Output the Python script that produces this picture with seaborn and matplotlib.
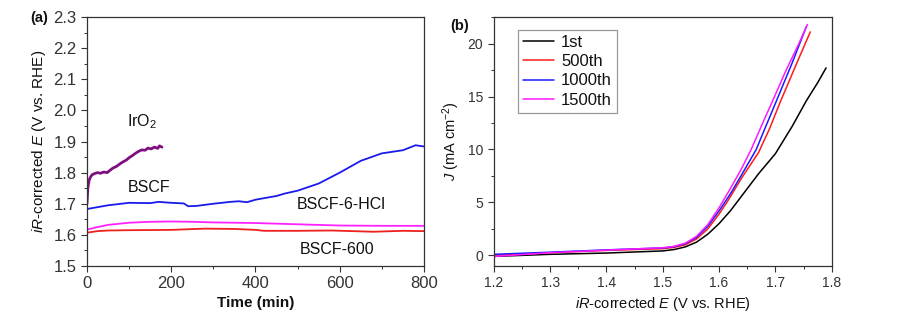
import numpy as np
import pandas as pd
import matplotlib
matplotlib.use("Agg")
import matplotlib.pyplot as plt
import seaborn as sns
from matplotlib.ticker import MultipleLocator, FormatStrFormatter

# ---- Panel (a) data: chronopotentiometry ----
iro2_t = [0, 2, 5, 8, 12, 18, 25, 32, 40, 48, 55, 62, 70, 78, 86, 93, 100, 108, 115, 122, 130, 138, 145, 152, 160, 168, 172, 178]
iro2_e = [1.70, 1.75, 1.775, 1.785, 1.793, 1.797, 1.80, 1.798, 1.802, 1.80, 1.808, 1.815, 1.82, 1.828, 1.835, 1.84, 1.848, 1.855, 1.862, 1.868, 1.873, 1.872, 1.879, 1.876, 1.882, 1.878, 1.886, 1.882]

hcl_t = [0, 50, 100, 150, 170, 200, 230, 240, 260, 300, 340, 360, 380, 400, 450, 470, 500, 550, 600, 650, 700, 750, 780, 800]
hcl_e = [1.683, 1.695, 1.703, 1.702, 1.706, 1.703, 1.701, 1.692, 1.693, 1.700, 1.706, 1.708, 1.705, 1.713, 1.725, 1.733, 1.742, 1.765, 1.800, 1.838, 1.862, 1.872, 1.888, 1.884]

bscf_t = [0, 25, 50, 100, 150, 200, 250, 300, 400, 500, 600, 700, 800]
bscf_e = [1.617, 1.625, 1.632, 1.639, 1.642, 1.643, 1.642, 1.640, 1.638, 1.634, 1.630, 1.629, 1.629]

b600_t = [0, 25, 50, 100, 200, 280, 350, 400, 420, 500, 580, 630, 680, 750, 800]
b600_e = [1.607, 1.612, 1.614, 1.615, 1.616, 1.620, 1.619, 1.616, 1.613, 1.613, 1.614, 1.612, 1.610, 1.613, 1.612]

# ---- Panel (b) data: polarization curves ----
pot_1st = [1.20, 1.30, 1.40, 1.50, 1.52, 1.54, 1.56, 1.58, 1.60, 1.62, 1.64, 1.67, 1.70, 1.73, 1.755, 1.775, 1.79]
j_1st = [-0.1, 0.1, 0.22, 0.42, 0.55, 0.8, 1.25, 2.0, 3.0, 4.2, 5.6, 7.7, 9.6, 12.2, 14.6, 16.3, 17.7]

pot_500 = [1.20, 1.30, 1.40, 1.50, 1.52, 1.54, 1.56, 1.58, 1.60, 1.615, 1.64, 1.67, 1.69, 1.708, 1.74, 1.762]
j_500 = [0.0, 0.25, 0.47, 0.63, 0.75, 1.0, 1.55, 2.5, 3.9, 5.1, 7.3, 9.7, 12.0, 14.4, 18.4, 21.1]

pot_1000 = [1.20, 1.30, 1.40, 1.50, 1.52, 1.54, 1.56, 1.58, 1.60, 1.62, 1.64, 1.666, 1.68, 1.702, 1.73, 1.755]
j_1000 = [0.1, 0.3, 0.52, 0.7, 0.82, 1.1, 1.7, 2.75, 4.2, 5.8, 7.6, 10.0, 11.8, 14.6, 18.2, 21.6]

pot_1500 = [1.20, 1.30, 1.40, 1.50, 1.52, 1.54, 1.56, 1.58, 1.60, 1.62, 1.64, 1.657, 1.68, 1.696, 1.72, 1.74, 1.757]
j_1500 = [-0.1, 0.25, 0.5, 0.72, 0.85, 1.15, 1.8, 2.9, 4.5, 6.3, 8.2, 10.0, 12.8, 14.7, 17.6, 19.8, 21.8]

sns.set_style("ticks")
plt.rcParams["font.family"] = ["Liberation Sans", "DejaVu Sans"]
plt.rcParams["mathtext.fontset"] = "custom"
plt.rcParams["mathtext.rm"] = "Liberation Sans"
plt.rcParams["mathtext.it"] = "Liberation Sans:italic"
plt.rcParams["axes.edgecolor"] = "#333333"
plt.rcParams["xtick.color"] = "#333333"
plt.rcParams["ytick.color"] = "#333333"
plt.rcParams["text.color"] = "#111111"
plt.rcParams["axes.labelcolor"] = "#111111"

fig = plt.figure(figsize=(9.06, 3.22), dpi=100)
ax1 = fig.add_axes([0.096, 0.174, 0.372, 0.773])
ax2 = fig.add_axes([0.545, 0.174, 0.373, 0.773])

def style_axes(ax, fs):
    for s in ax.spines.values():
        s.set_linewidth(0.9)
        s.set_visible(True)
    ax.tick_params(which="major", direction="out", length=4, width=0.8, labelsize=fs)
    ax.tick_params(which="minor", direction="out", length=2, width=0.7)
    ax.tick_params(top=False, right=False, which="both")

# Panel (a)
dfa = pd.concat([
    pd.DataFrame({"t": iro2_t, "E": iro2_e, "s": "IrO2"}),
    pd.DataFrame({"t": hcl_t, "E": hcl_e, "s": "BSCF-6-HCl"}),
    pd.DataFrame({"t": bscf_t, "E": bscf_e, "s": "BSCF"}),
    pd.DataFrame({"t": b600_t, "E": b600_e, "s": "BSCF-600"}),
])
pal_a = {"IrO2": "#7f0f7f", "BSCF-6-HCl": "#1a1aee", "BSCF": "#ff22ff", "BSCF-600": "#ee2020"}
lw_a = {"IrO2": 2.0, "BSCF-6-HCl": 1.3, "BSCF": 1.3, "BSCF-600": 1.3}
for name, g in dfa.groupby("s", sort=False):
    sns.lineplot(data=g, x="t", y="E", ax=ax1, color=pal_a[name], lw=lw_a[name],
                 estimator=None, sort=False, legend=False)
ax1.set_xlim(0, 800)
ax1.set_ylim(1.5, 2.3)
ax1.xaxis.set_major_locator(MultipleLocator(200))
ax1.xaxis.set_minor_locator(MultipleLocator(100))
ax1.yaxis.set_major_locator(MultipleLocator(0.1))
ax1.yaxis.set_minor_locator(MultipleLocator(0.05))
ax1.yaxis.set_major_formatter(FormatStrFormatter("%.1f"))
style_axes(ax1, 12)
ax1.set_xlabel("Time (min)", fontsize=11, fontweight="bold", labelpad=3)
ax1.set_ylabel(r"$iR$-corrected $E$ (V vs. RHE)", fontsize=11, labelpad=4)
ax1.text(96, 1.963, r"IrO$_2$", fontsize=11.5, va="center")
ax1.text(96, 1.753, "BSCF", fontsize=11.5, va="center")
ax1.text(497, 1.697, "BSCF-6-HCl", fontsize=11.5, va="center")
ax1.text(504, 1.552, "BSCF-600", fontsize=11.5, va="center")
fig.text(0.033, 0.945, "(a)", fontsize=10.5, fontweight="bold", va="center")

# Panel (b)
dfb = pd.concat([
    pd.DataFrame({"E": pot_1st, "J": j_1st, "s": "1st"}),
    pd.DataFrame({"E": pot_500, "J": j_500, "s": "500th"}),
    pd.DataFrame({"E": pot_1000, "J": j_1000, "s": "1000th"}),
    pd.DataFrame({"E": pot_1500, "J": j_1500, "s": "1500th"}),
])
pal_b = {"1st": "#000000", "500th": "#ff1a1a", "1000th": "#1a1aff", "1500th": "#ff1aff"}
sns.lineplot(data=dfb, x="E", y="J", hue="s", palette=pal_b, ax=ax2, lw=1.1,
             estimator=None, sort=False)
ax2.set_xlim(1.2, 1.8)
ax2.set_ylim(-1.0, 22.5)
ax2.xaxis.set_major_locator(MultipleLocator(0.1))
ax2.xaxis.set_minor_locator(MultipleLocator(0.05))
ax2.xaxis.set_major_formatter(FormatStrFormatter("%.1f"))
ax2.yaxis.set_major_locator(MultipleLocator(5))
ax2.yaxis.set_minor_locator(MultipleLocator(2.5))
style_axes(ax2, 10)
ax2.set_xlabel(r"$iR$-corrected $E$ (V vs. RHE)", fontsize=10.5, labelpad=3)
ax2.set_ylabel(r"$J$ (mA cm$^{-2}$)", fontsize=10.5, labelpad=4)
leg = ax2.legend(loc="upper left", bbox_to_anchor=(0.071, 0.948), borderaxespad=0,
                 fontsize=12, frameon=True, fancybox=False, edgecolor="#999999",
                 framealpha=1, handlelength=1.9, handletextpad=0.4, borderpad=0.3,
                 labelspacing=0.25, title=None)
leg.get_frame().set_linewidth(0.9)
fig.text(0.497, 0.92, "(b)", fontsize=10.5, fontweight="bold", va="center")

fig.savefig("out.png", dpi=100)
